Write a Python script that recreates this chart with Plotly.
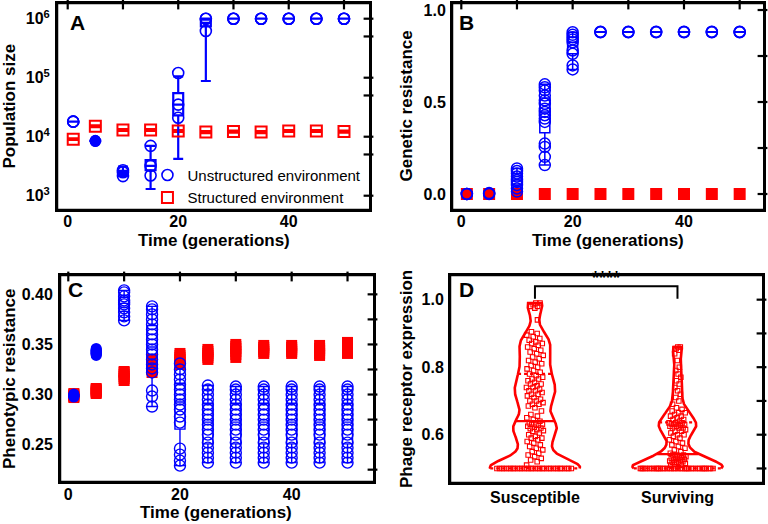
import numpy as np
import plotly.graph_objects as go

FONT = "Liberation Sans, Arial, Helvetica, sans-serif"
BLUE = "#0000FF"
RED = "#FF0000"
BLACK = "#000000"

# ------------------------------------------------------------------ data
times = [1, 5, 10, 15, 20, 25, 30, 35, 40, 45, 50]

# Panel A - population size (log scale)
popA_unstructured = [
    [1.8e4, 1.8e4, 1.8e4],
    [8.3e3, 8.4e3, 8.5e3, 8.6e3, 8.7e3],
    [2.15e3, 2.5e3, 2.7e3],
    [2.2e3, 3.2e3, 7.0e3],
    [2.1e4, 3.5e4, 1.2e5],
    [6.2e5, 1.0e6, 1.0e6],
    [1.0e6, 1.0e6, 1.0e6],
    [1.0e6, 1.0e6, 1.0e6],
    [1.0e6, 1.0e6, 1.0e6],
    [1.0e6, 1.0e6, 1.0e6],
    [1.0e6, 1.0e6, 1.0e6],
]
popA_unstr_q1 = [1.8e4, 8.4e3, 2.3e3, 2.7e3, 2.3e4, 7.4e5, 1.0e6, 1.0e6, 1.0e6, 1.0e6, 1.0e6]
popA_unstr_med = [1.8e4, 8.5e3, 2.5e3, 3.2e3, 3.5e4, 8.5e5, 1.0e6, 1.0e6, 1.0e6, 1.0e6, 1.0e6]
popA_unstr_q3 = [1.8e4, 8.6e3, 2.65e3, 4.0e3, 5.5e4, 9.6e5, 1.0e6, 1.0e6, 1.0e6, 1.0e6, 1.0e6]
popA_unstr_lo = [1.8e4, 8.3e3, 2.15e3, 1.3e3, 4.2e3, 8.8e4, 1.0e6, 1.0e6, 1.0e6, 1.0e6, 1.0e6]
popA_unstr_hi = [1.8e4, 8.7e3, 3.1e3, 7.0e3, 1.05e5, 1.0e6, 1.0e6, 1.0e6, 1.0e6, 1.0e6, 1.0e6]

popA_structured = [9.1e3, 1.5e4, 1.3e4, 1.3e4, 1.25e4, 1.2e4, 1.22e4, 1.2e4, 1.25e4, 1.25e4, 1.22e4]
popA_str_q1 = [8.7e3, 1.43e4, 1.24e4, 1.24e4, 1.19e4, 1.14e4, 1.16e4, 1.14e4, 1.19e4, 1.19e4, 1.16e4]
popA_str_q3 = [9.5e3, 1.57e4, 1.36e4, 1.36e4, 1.31e4, 1.26e4, 1.28e4, 1.26e4, 1.31e4, 1.31e4, 1.28e4]

# Panel B - genetic resistance
genB_unstructured = [
    [0.0, 0.0, 0.0],
    [0.0, 0.002, 0.005],
    [0.013, 0.03, 0.049, 0.065, 0.076, 0.095, 0.112, 0.125, 0.139],
    [0.157, 0.202, 0.256, 0.274, 0.392, 0.41, 0.428, 0.446, 0.464, 0.49, 0.509, 0.535, 0.563, 0.58, 0.596],
    [0.677, 0.699, 0.762, 0.78, 0.825, 0.84, 0.852, 0.865, 0.879],
    [0.879, 0.88, 0.882],
    [0.879, 0.88, 0.882],
    [0.879, 0.88, 0.882],
    [0.879, 0.88, 0.882],
    [0.879, 0.88, 0.882],
    [0.879, 0.88, 0.882],
]
genB_structured = [0.0, 0.0, 0.0, 0.0, 0.0, 0.0, 0.0, 0.0, 0.0, 0.0, 0.0]

# Panel C - phenotypic resistance
phenC_unstructured = [
    [0.2975, 0.298, 0.2985, 0.299, 0.2995, 0.300, 0.3005],
    [0.339, 0.340, 0.341, 0.342, 0.343, 0.344, 0.345, 0.346],
    [0.374, 0.378, 0.382, 0.386, 0.390, 0.392, 0.394, 0.398, 0.402, 0.404],
    [0.288, 0.298, 0.304, 0.322, 0.326, 0.330, 0.335, 0.340, 0.345, 0.350, 0.355, 0.360, 0.365, 0.370, 0.375, 0.380, 0.385, 0.388],
    [0.229, 0.234, 0.240, 0.246, 0.272, 0.278, 0.285, 0.290, 0.295, 0.300, 0.305, 0.310, 0.315, 0.320, 0.325, 0.331],
    [0.232, 0.237, 0.242, 0.247, 0.252, 0.260, 0.265, 0.270, 0.275, 0.280, 0.285, 0.290, 0.295, 0.300, 0.305, 0.309],
    [0.232, 0.237, 0.242, 0.247, 0.252, 0.260, 0.265, 0.270, 0.275, 0.280, 0.285, 0.290, 0.295, 0.300, 0.305, 0.308],
    [0.232, 0.237, 0.242, 0.247, 0.252, 0.260, 0.265, 0.270, 0.275, 0.280, 0.285, 0.290, 0.295, 0.300, 0.305, 0.308],
    [0.232, 0.237, 0.242, 0.247, 0.252, 0.260, 0.265, 0.270, 0.275, 0.280, 0.285, 0.290, 0.295, 0.300, 0.305, 0.308],
    [0.232, 0.237, 0.242, 0.247, 0.252, 0.260, 0.265, 0.270, 0.275, 0.280, 0.285, 0.290, 0.295, 0.300, 0.305, 0.308],
    [0.232, 0.237, 0.242, 0.247, 0.252, 0.260, 0.265, 0.270, 0.275, 0.280, 0.285, 0.290, 0.295, 0.300, 0.305, 0.308],
]
phenC_structured = [
    [0.297, 0.298, 0.299, 0.300, 0.301],
    [0.301, 0.302, 0.303, 0.304, 0.305, 0.306],
    [0.314, 0.316, 0.318, 0.320, 0.322, 0.323],
    [0.322, 0.325, 0.328, 0.330, 0.332, 0.335],
    [0.330, 0.332, 0.335, 0.337, 0.339, 0.341],
    [0.335, 0.337, 0.339, 0.341, 0.343, 0.345],
    [0.337, 0.340, 0.343, 0.346, 0.348, 0.350],
    [0.341, 0.343, 0.345, 0.347, 0.349],
    [0.341, 0.343, 0.345, 0.347, 0.349],
    [0.339, 0.341, 0.344, 0.346, 0.349],
    [0.341, 0.344, 0.347, 0.349, 0.352],
]

# Panel D - phage receptor expression
expr_categories = ["Susceptible", "Surviving"]
expr_susceptible = [
    0.50, 0.50, 0.50, 0.50, 0.50, 0.50, 0.50, 0.50, 0.50, 0.50, 0.50, 0.50,
    0.50, 0.50, 0.50, 0.50, 0.50, 0.50, 0.50, 0.50, 0.50, 0.50, 0.50, 0.50,
    0.50, 0.50, 0.50, 0.50, 0.50, 0.50, 0.50, 0.50, 0.50, 0.50,
    0.51, 0.52, 0.525, 0.53, 0.535, 0.54, 0.545,
    0.55, 0.555, 0.56, 0.565, 0.57, 0.575, 0.58, 0.585, 0.59, 0.59, 0.595, 0.60,
    0.605, 0.61, 0.612, 0.615, 0.618, 0.62, 0.622, 0.625, 0.628, 0.63, 0.63, 0.63,
    0.635, 0.64, 0.645, 0.65, 0.655, 0.66, 0.67, 0.68, 0.685, 0.69, 0.69, 0.695, 0.70, 0.70,
    0.705, 0.71, 0.715, 0.72, 0.72, 0.725, 0.73, 0.73, 0.735, 0.74, 0.74, 0.745, 0.75, 0.75,
    0.755, 0.76, 0.765, 0.765,
    0.77, 0.775, 0.78, 0.785, 0.79, 0.795,
    0.80, 0.805, 0.81, 0.815, 0.82, 0.825, 0.83, 0.835, 0.84, 0.845, 0.85,
    0.855, 0.86, 0.865, 0.87, 0.87, 0.875, 0.88, 0.885, 0.89, 0.895, 0.90, 0.905,
    0.94, 0.975, 0.98, 0.98, 0.985, 0.99, 0.99,
]
expr_surviving = [
    0.50, 0.50, 0.50, 0.50, 0.50, 0.50, 0.50, 0.50, 0.50, 0.50, 0.50, 0.50, 0.50,
    0.50, 0.50, 0.50, 0.50, 0.50, 0.50, 0.50, 0.50, 0.50, 0.50, 0.50, 0.50, 0.50,
    0.50, 0.50, 0.50, 0.50, 0.50, 0.50, 0.50, 0.50, 0.50, 0.50, 0.50, 0.50,
    0.505, 0.51, 0.51, 0.512, 0.515, 0.515, 0.518, 0.52, 0.52, 0.522, 0.525,
    0.525, 0.527, 0.53, 0.53, 0.532, 0.535, 0.535, 0.537, 0.54, 0.54, 0.54,
    0.545, 0.55, 0.555, 0.56, 0.565, 0.57, 0.575, 0.58, 0.585, 0.59, 0.595, 0.60,
    0.60, 0.605, 0.61, 0.61, 0.615, 0.62, 0.62, 0.62, 0.625, 0.625, 0.628, 0.63,
    0.63, 0.63, 0.632, 0.635, 0.635, 0.635,
    0.64, 0.645, 0.645, 0.65, 0.655, 0.655, 0.66, 0.665, 0.665, 0.67, 0.675, 0.68, 0.69, 0.70,
    0.71, 0.72, 0.73, 0.74, 0.75, 0.76, 0.77, 0.78, 0.79, 0.80, 0.82, 0.84, 0.85, 0.855, 0.86, 0.86,
]
significance_label = "****"

# ------------------------------------------------------------------ styling
A_FILLED_TIMES = [5]          # clusters drawn as solid dots
C_FILLED_TIMES = [1, 5]
BOX_W = 1.8
VIOLIN_HALF = 0.316
VIOLIN_BW = [0.025, 0.02]
FRAME_PX = 3.0

W, H = 768, 524
PANELS = {  # left, right, top, bottom in pixels
    "A": (55, 372, 1, 212),
    "B": (450, 766, 1, 212),
    "C": (58, 376, 273, 484),
    "D": (448, 765, 273, 485),
}
xrA, xrB, xrC = [-2.3, 55.07], [-2.03, 54.73], [-1.84, 55.1]
yrA = [2.724, 6.30]
yrB = [-0.0978, 1.049]
yrC = [0.2107, 0.4213]
xrD = [-0.61, 1.614]
yrD = [0.451, 1.079]

fig = go.Figure()


def flat(groups, xs, keep=lambda t: True):
    xx, yy = [], []
    for t, vals in zip(xs, groups):
        if keep(t):
            xx += [t] * len(vals)
            yy += list(vals)
    return xx, yy


def add_box(xs, q1, med, q3, lo, hi, color, xa, ya, lw=1.6):
    fig.add_trace(go.Box(
        x=xs, q1=q1, median=med, q3=q3, lowerfence=lo, upperfence=hi,
        width=BOX_W, whiskerwidth=1, boxpoints=False,
        line=dict(color=color, width=lw), fillcolor="rgba(0,0,0,0)",
        xaxis=xa, yaxis=ya, showlegend=False, hoverinfo="skip"))


def stats(groups):
    q1, med, q3, lo, hi = [], [], [], [], []
    for vals in groups:
        a = np.asarray(vals, dtype=float)
        p = np.percentile(a, [25, 50, 75])
        q1.append(p[0]); med.append(p[1]); q3.append(p[2])
        lo.append(a.min()); hi.append(a.max())
    return q1, med, q3, lo, hi


# ---------------- Panel A
fig.add_trace(go.Scatter(
    x=times, y=popA_structured, mode="markers", name="Structured environment",
    marker=dict(symbol="square-open", size=11, color=RED, line=dict(width=2)),
    xaxis="x", yaxis="y", legendrank=2, hoverinfo="skip"))
add_box(times, popA_str_q1, popA_structured, popA_str_q3, popA_str_q1, popA_str_q3, RED, "x", "y", 1.6)
xx, yy = flat(popA_unstructured, times, lambda t: t not in A_FILLED_TIMES)
fig.add_trace(go.Scatter(
    x=xx, y=yy, mode="markers", name="Unstructured environment",
    marker=dict(symbol="circle-open", size=11, color=BLUE, line=dict(width=1.6)),
    xaxis="x", yaxis="y", legendrank=1, hoverinfo="skip"))
xx, yy = flat(popA_unstructured, times, lambda t: t in A_FILLED_TIMES)
fig.add_trace(go.Scatter(
    x=xx, y=yy, mode="markers", showlegend=False,
    marker=dict(symbol="circle", size=11, color=BLUE),
    xaxis="x", yaxis="y", hoverinfo="skip"))
add_box(times, popA_unstr_q1, popA_unstr_med, popA_unstr_q3, popA_unstr_lo, popA_unstr_hi, BLUE, "x", "y", 2.2)

# ---------------- Panel B
fig.add_trace(go.Scatter(
    x=times, y=genB_structured, mode="markers", showlegend=False,
    marker=dict(symbol="square", size=12, color=RED),
    xaxis="x2", yaxis="y2", hoverinfo="skip"))
xx, yy = flat(genB_unstructured, times)
fig.add_trace(go.Scatter(
    x=xx, y=yy, mode="markers", showlegend=False,
    marker=dict(symbol="circle-open", size=11, color=BLUE, line=dict(width=1.5)),
    xaxis="x2", yaxis="y2", hoverinfo="skip"))
add_box(times, *stats(genB_unstructured), BLUE, "x2", "y2", 1.5)

# ---------------- Panel C
xx, yy = flat(phenC_structured, times)
fig.add_trace(go.Scatter(
    x=xx, y=yy, mode="markers", showlegend=False,
    marker=dict(symbol="square", size=11, color=RED),
    xaxis="x3", yaxis="y3", hoverinfo="skip"))
xx, yy = flat(phenC_unstructured, times, lambda t: t not in C_FILLED_TIMES)
fig.add_trace(go.Scatter(
    x=xx, y=yy, mode="markers", showlegend=False,
    marker=dict(symbol="circle-open", size=11, color=BLUE, line=dict(width=1.4)),
    xaxis="x3", yaxis="y3", hoverinfo="skip"))
xx, yy = flat(phenC_unstructured, times, lambda t: t in C_FILLED_TIMES)
fig.add_trace(go.Scatter(
    x=xx, y=yy, mode="markers", showlegend=False,
    marker=dict(symbol="circle", size=11, color=BLUE),
    xaxis="x3", yaxis="y3", hoverinfo="skip"))
add_box(times, *stats(phenC_unstructured), BLUE, "x3", "y3", 1.4)

# ---------------- Panel D (violins computed from the data)
all_expr = []
for c, (vals, bw) in enumerate(zip([expr_susceptible, expr_surviving], VIOLIN_BW)):
    v = np.asarray(vals, dtype=float)
    all_expr += list(v)
    ys = np.linspace(v.min(), v.max(), 400)
    dens = np.exp(-0.5 * ((ys[:, None] - v[None, :]) / bw) ** 2).sum(axis=1)
    hw = dens / dens.max() * VIOLIN_HALF
    fig.add_trace(go.Scatter(
        x=np.concatenate([c + hw, (c - hw)[::-1]]), y=np.concatenate([ys, ys[::-1]]),
        mode="lines", line=dict(color=RED, width=2.6), showlegend=False,
        xaxis="x4", yaxis="y4", hoverinfo="skip"))
    order = np.arange(len(v))
    frac = (order * 0.6180339887) % 1.0 - 0.5
    hwp = np.interp(v, ys, hw)
    spread = np.where(v <= v.min(), 0.85 * hwp, np.minimum(0.06, 0.8 * hwp))
    fig.add_trace(go.Scatter(
        x=c + 2 * frac * spread, y=v, mode="markers", showlegend=False,
        marker=dict(symbol="square-open", size=4.5, color=RED, line=dict(width=1.1)),
        xaxis="x4", yaxis="y4", hoverinfo="skip"))
    q1, med, q3 = np.percentile(v, [25, 50, 75])
    for q, dash in [(q1, "dot"), (med, "solid"), (q3, "dot")]:
        h = float(np.interp(q, ys, hw))
        fig.add_trace(go.Scatter(
            x=[c - h, c + h], y=[q, q], mode="lines",
            line=dict(color=RED, width=2.2, dash=dash), showlegend=False,
            xaxis="x4", yaxis="y4", hoverinfo="skip"))

top = max(all_expr)
fig.add_trace(go.Scatter(
    x=[0, 0, 1, 1], y=[top + 0.013, top + 0.05, top + 0.05, top + 0.013],
    mode="lines", line=dict(color=BLACK, width=2), showlegend=False,
    xaxis="x4", yaxis="y4", hoverinfo="skip"))


# ---------------- frames and tick marks (drawn as traces from the axis ranges)
def shift(v, dpx, rng, size_px, log=False):
    per = (rng[1] - rng[0]) / size_px
    if log:
        return 10 ** (np.log10(v) + dpx * per)
    return v + dpx * per


def axis_edge(rng, log=False):
    return (10 ** rng[0], 10 ** rng[1]) if log else (rng[0], rng[1])


def add_frame(panel, xa, ya, xr, yr, ylog, xmaj, xmin, ymaj, ymin, top_ticks=True):
    l, r, t, b = PANELS[panel]
    wpx, hpx = r - l, b - t
    x0, x1 = axis_edge(xr)
    y0, y1 = axis_edge(yr, ylog)
    # frame: four filled bars lying just inside the plotting area
    ix0, ix1 = shift(x0, FRAME_PX, xr, wpx), shift(x1, -FRAME_PX, xr, wpx)
    iy0, iy1 = shift(y0, FRAME_PX, yr, hpx, ylog), shift(y1, -FRAME_PX, yr, hpx, ylog)
    bars = [
        ([x0, x1, x1, x0], [y0, y0, iy0, iy0]),
        ([x0, x1, x1, x0], [iy1, iy1, y1, y1]),
        ([x0, ix0, ix0, x0], [y0, y0, y1, y1]),
        ([ix1, x1, x1, ix1], [y0, y0, y1, y1]),
    ]
    fx, fy = [], []
    for bx, by in bars:
        fx += bx + [None]
        fy += by + [None]
    fig.add_trace(go.Scatter(
        x=fx, y=fy, mode="lines", fill="toself", fillcolor=BLACK,
        line=dict(color=BLACK, width=0.5), showlegend=False, hoverinfo="skip",
        xaxis=xa, yaxis=ya))

    def ticks(xs, ys, sym, size):
        fig.add_trace(go.Scatter(
            x=list(xs), y=list(ys), mode="markers", cliponaxis=False,
            marker=dict(symbol=sym, size=size, color=BLACK, line=dict(width=2.2, color=BLACK)),
            showlegend=False, hoverinfo="skip", xaxis=xa, yaxis=ya))

    OUT, IN = 6, 7
    for vals, ln in [(xmaj, OUT), (xmin, OUT - 1)]:
        vals = [v for v in vals if xr[0] < v < xr[1]]
        ticks(vals, [shift(y0, -ln / 2, yr, hpx, ylog)] * len(vals), "line-ns-open", ln)
        if top_ticks:
            ticks(vals, [shift(y1, -IN / 2, yr, hpx, ylog)] * len(vals), "line-ns-open", IN)
    for vals, ln in [(ymaj, OUT), (ymin, OUT - 1)]:
        vals = [v for v in vals
                if yr[0] < (np.log10(v) if ylog else v) < yr[1]]
        ticks([shift(x0, -ln / 2, xr, wpx)] * len(vals), vals, "line-ew-open", ln)
        ticks([shift(x1, -IN / 2, xr, wpx)] * len(vals), vals, "line-ew-open", IN)


logvals = [1e3, 1e4, 1e5, 1e6]
logtext = ["10<sup>3</sup>", "10<sup>4</sup>", "10<sup>5</sup>", "10<sup>6</sup>"]
logminor = [5e3, 5e4, 5e5]
tmaj, tmin = np.arange(0, 51, 20), np.arange(10, 51, 20)

add_frame("A", "x", "y", xrA, yrA, True, tmaj, tmin, logvals, logminor)
add_frame("B", "x2", "y2", xrB, yrB, False, tmaj, tmin,
          np.arange(0, 1.01, 0.5), np.arange(0.25, 1.01, 0.5))
add_frame("C", "x3", "y3", xrC, yrC, False, tmaj, tmin,
          np.arange(0.25, 0.401, 0.05), np.arange(0.225, 0.43, 0.05))
add_frame("D", "x4", "y4", xrD, yrD, False, [0, 1], [],
          np.arange(0.6, 1.01, 0.2), np.arange(0.5, 1.01, 0.2), top_ticks=False)

# ------------------------------------------------------------------ layout


def dom_x(p):
    return [PANELS[p][0] / W, PANELS[p][1] / W]


def dom_y(p):
    return [1 - PANELS[p][3] / H, 1 - PANELS[p][2] / H]


tickfont = dict(family=FONT, size=16, color=BLACK, weight="bold")
common = dict(showline=False, ticks="outside", ticklen=4, tickwidth=0,
              tickcolor="rgba(0,0,0,0)",
              showgrid=False, zeroline=False, tickfont=tickfont)

layout = dict(
    width=W, height=H, margin=dict(l=0, r=0, t=0, b=0),
    paper_bgcolor="white", plot_bgcolor="white",
    font=dict(family=FONT, color=BLACK),
    showlegend=True,
    legend=dict(x=0.192, y=0.697, xanchor="left", yanchor="top",
                font=dict(family=FONT, size=15, color=BLACK),
                bgcolor="rgba(0,0,0,0)", borderwidth=0, tracegroupgap=0,
                itemwidth=30),
    xaxis=dict(domain=dom_x("A"), anchor="y", range=xrA, tick0=0, dtick=20,
               ticklabelstandoff=-9, **common),
    yaxis=dict(domain=dom_y("A"), anchor="x", type="log", range=yrA,
               tickmode="array", tickvals=logvals, ticktext=logtext, ticklabelstandoff=-3,
               **common),
    xaxis2=dict(domain=dom_x("B"), anchor="y2", range=xrB, tick0=0, dtick=20,
                ticklabelstandoff=-9, **common),
    yaxis2=dict(domain=dom_y("B"), anchor="x2", range=yrB, tick0=0, dtick=0.5,
                tickformat=".1f", ticklabelstandoff=-4, **common),
    xaxis3=dict(domain=dom_x("C"), anchor="y3", range=xrC, tick0=0, dtick=20,
                ticklabelstandoff=-8, **common),
    yaxis3=dict(domain=dom_y("C"), anchor="x3", range=yrC, tick0=0.25, dtick=0.05,
                tickformat=".2f", ticklabelstandoff=-3, **common),
    xaxis4=dict(domain=dom_x("D"), anchor="y4", range=xrD, tickmode="array",
                tickvals=[0, 1], ticktext=expr_categories, ticklabelstandoff=-6, **common),
    yaxis4=dict(domain=dom_y("D"), anchor="x4", range=yrD, tick0=0.6, dtick=0.2,
                tickformat=".1f", ticklabelstandoff=-4, **common),
)
fig.update_layout(**layout)

# annotations: axis titles, panel letters, significance
title_font = dict(family=FONT, size=17, color=BLACK, weight="bold")
ann = []


def px_ann(text, xp, yp, font, angle=0, **kw):
    ann.append(dict(text=text, x=xp / W, y=1 - yp / H, xref="paper", yref="paper",
                    showarrow=False, textangle=angle, font=font,
                    xanchor="center", yanchor="middle", **kw))


px_ann("Population size", 9, 106.5, title_font, -90)
px_ann("Genetic resistance", 406, 106.5, title_font, -90)
px_ann("Phenotypic resistance", 9, 379, title_font, -90)
px_ann("Phage receptor expression", 406, 379, title_font, -90)
px_ann("Time (generations)", 213.5, 240.5, title_font)
px_ann("Time (generations)", 608, 241, title_font)
px_ann("Time (generations)", 216, 512.5, title_font)
letter_font = dict(family=FONT, size=21, color=BLACK, weight="bold")
px_ann("A", 77, 23, letter_font)
px_ann("B", 466, 23, letter_font)
px_ann("C", 75, 289, letter_font)
px_ann("D", 466, 289, letter_font)
ann.append(dict(text=significance_label, x=0.5, y=top + 0.05, xref="x4", yref="y4",
                showarrow=False, yanchor="bottom", yshift=-4,
                font=dict(family=FONT, size=18, color=BLACK, weight="bold")))
fig.update_layout(annotations=ann)

fig.write_html("out.html", config={"displayModeBar": False},
               post_script="document.body.style.margin='0px';")
